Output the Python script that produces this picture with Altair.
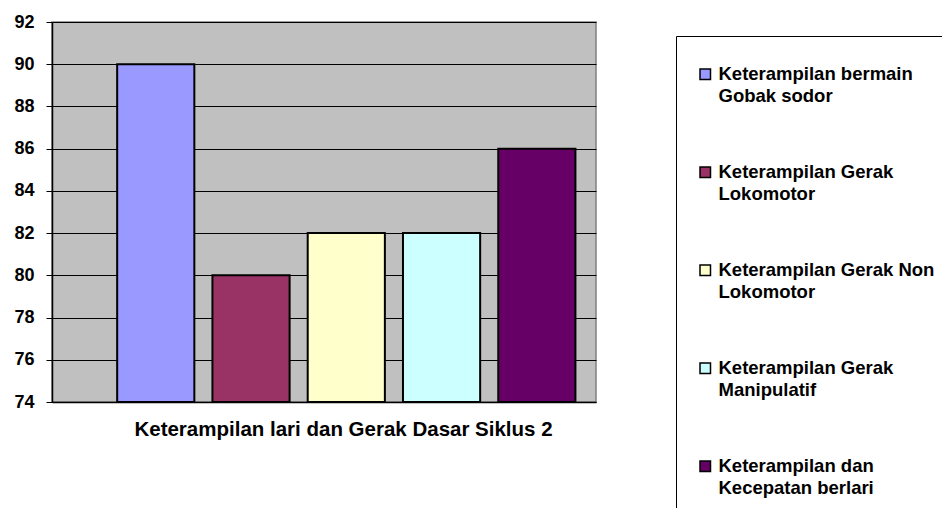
import altair as alt
import pandas as pd

series = [
    "Keterampilan bermain\nGobak sodor",
    "Keterampilan Gerak\nLokomotor",
    "Keterampilan Gerak Non\nLokomotor",
    "Keterampilan Gerak\nManipulatif",
    "Keterampilan dan\nKecepatan berlari",
]
values = [90, 80, 82, 82, 86]
colors = ["#9999FF", "#993366", "#FFFFCC", "#CCFFFF", "#660066"]
y_ticks = [74, 76, 78, 80, 82, 84, 86, 88, 90, 92]
x_title = "Keterampilan lari dan Gerak Dasar Siklus 2"

df = pd.DataFrame({"series": series, "value": values})

FONT = "Liberation Sans"

bars = alt.Chart(df).mark_bar(stroke="black", strokeWidth=2, clip=True).encode(
    x=alt.X(
        "series:N",
        sort=series,
        scale=alt.Scale(paddingInner=0.19, paddingOuter=0.45, align=0.76),
        axis=alt.Axis(
            labels=False, ticks=False, title=x_title,
            titleFont=FONT, titleFontSize=20.5, titleFontWeight="bold",
            titlePadding=17, titleX=291, titleColor="black",
            domainColor="black", domainWidth=1.5,
        ),
    ),
    y=alt.Y(
        "value:Q",
        scale=alt.Scale(domain=[74, 92], nice=False, zero=False),
        axis=alt.Axis(
            values=y_ticks, title=None, labelFont=FONT, labelFontSize=18,
            labelFontWeight="bold", labelColor="black", labelPadding=12,
            tickSize=6, tickColor="black", domainColor="black", domainWidth=1.5,
            gridColor="black", gridWidth=1, gridOpacity=1,
        ),
    ),
    y2=alt.datum(74),
    color=alt.Color(
        "series:N",
        sort=series,
        scale=alt.Scale(domain=series, range=colors),
        legend=alt.Legend(
            title=None, orient="none", legendX=624, legendY=14,
            labelExpr="split(datum.label, '\\n')",
            labelFont=FONT, labelFontSize=18.5, labelFontWeight="bold",
            labelColor="black",
            symbolType="square", symbolSize=110, symbolStrokeColor="black",
            symbolStrokeWidth=1.5, symbolOpacity=1, symbolOffset=-9,
            rowPadding=57, padding=29, labelOffset=4, labelLimit=400,
            strokeColor="black", fillColor="white",
        ),
    ),
)

chart = bars.properties(
    width=544, height=380,
    autosize=alt.AutoSizeParams(type="none"),
    padding={"left": 44, "top": 14, "right": 346, "bottom": 106},
).configure(
    background="white", style={"guide-label": {"lineHeight": 22}}
).configure_view(
    fill="#C0C0C0", stroke="#808080", strokeWidth=1.5
)

chart.save("out.html", embed_options={"renderer": "svg", "actions": False})
